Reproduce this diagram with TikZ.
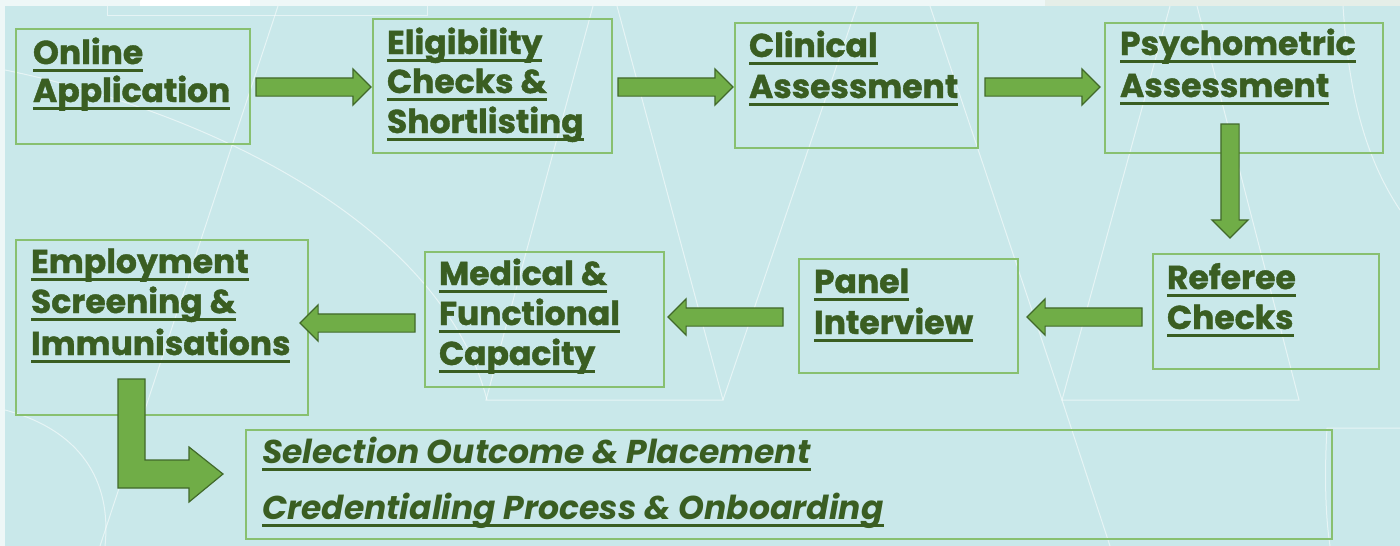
\documentclass[tikz,border=0pt]{standalone}
\usepackage{fontspec}
\setmainfont{Poppins}[BoldFeatures={FakeBold=1.2}]
\usetikzlibrary{shapes.arrows}
\definecolor{bg}{HTML}{C9E8EA}
\definecolor{bgtop}{HTML}{EEF7F7}
\definecolor{bgtopr}{HTML}{E5EEE8}
\definecolor{boxc}{HTML}{88C070}
\definecolor{arrf}{HTML}{70AD47}
\definecolor{arrd}{HTML}{41692A}
\definecolor{txtc}{HTML}{3A5E22}
\newcommand\ulin[1]{\setbox0=\hbox{#1}\rlap{\rule[-7.5pt]{\wd0}{3pt}}\box0}
\begin{document}
\begin{tikzpicture}[x=1pt,y=-1pt,
  stage/.style={draw=boxc, line width=1.5pt, anchor=north west, inner sep=0pt, outer sep=0pt},
  lbl/.style={anchor=base west, inner sep=0pt, outer sep=0pt, text=txtc, font=\fontsize{33}{40}\selectfont\bfseries},
  ilbl/.style={lbl, font=\fontsize{33}{40}\selectfont\bfseries\itshape},
  blk/.style={single arrow, draw=arrd, fill=arrf, line width=1.2pt,
    single arrow head extend=9pt, single arrow tip angle=90, inner sep=8.5pt,
    outer sep=0pt, minimum height=115pt, anchor=tail},
  deco/.style={white, opacity=0.55, line width=1pt}]
\useasboundingbox (0,0) rectangle (1400,546);
% background
\fill[bg] (0,0) rectangle (1400,546);
\fill[bgtop] (0,0) rectangle (1045,6);
\fill[bgtopr] (1045,0) rectangle (1400,6);
\fill[white] (140,0) rectangle (250,6);
\fill[bgtop] (0,0) rectangle (5,546);
% decorative lines
\draw[deco] (107,6) -- (107,15) -- (427,15) -- (427,6);
\draw[deco] (278,6) -- (100,546);
\draw[deco] (593,6) -- (486,400) -- (723,400) -- (617,6);
\draw[deco] (857,6) -- (723,400);
\draw[deco] (930,6) -- (1062,400) -- (1110,546);
\draw[deco] (1170,6) -- (1062,400) -- (1299,400) -- (1197,6);
\draw[deco] (1343,6) .. controls (1348,80) and (1360,150) .. (1400,210);
\draw[deco] (1400,428) -- (1327,428) .. controls (1324,480) and (1326,520) .. (1330,546);
\draw[deco] (5,70) .. controls (200,110) and (440,220) .. (487,400);
\draw[deco] (5,410) .. controls (80,430) and (112,480) .. (105,546);
% boxes
\node[stage, minimum width=234pt, minimum height=115pt] (b1) at (16,29) {};
\node[stage, minimum width=239pt, minimum height=134pt] (b2) at (373,19) {};
\node[stage, minimum width=243pt, minimum height=125pt] (b3) at (735,23) {};
\node[stage, minimum width=278pt, minimum height=130pt] (b4) at (1105,23) {};
\node[stage, minimum width=226pt, minimum height=115pt] (b5) at (1153,254) {};
\node[stage, minimum width=219pt, minimum height=114pt] (b6) at (799,259) {};
\node[stage, minimum width=239pt, minimum height=135pt] (b7) at (425,252) {};
\node[stage, minimum width=292pt, minimum height=175pt] (b8) at (16,240) {};
\node[stage, minimum width=1086pt, minimum height=109pt] (b9) at (246,430) {};
% arrows
\node[blk] (a1) at (256,87) {};
\node[blk] (a2) at (618,87) {};
\node[blk] (a3) at (985,87) {};
\node[blk, minimum height=114pt, shape border rotate=270] (a4) at (1230,124) {};
\node[blk, shape border rotate=180] (a5) at (1142,317) {};
\node[blk, shape border rotate=180] (a6) at (783,317) {};
\node[blk, shape border rotate=180] (a7) at (415,323) {};
\coordinate (a8s) at (118,379);
\draw[draw=arrd, fill=arrf, line width=1.2pt, line join=miter]
  (a8s) -- (145,379) -- (145,460) -- (189,460) -- (189,447) -- (223,474)
  -- (189,502) -- (189,488) -- (118,488) -- cycle;
% labels
\node[lbl] (t1a) at (33,64) {\ulin{Online}};
\node[lbl] (t1b) at (33,102) {\ulin{Application}};
\node[lbl] (t2a) at (387,54) {\ulin{Eligibility}};
\node[lbl] (t2b) at (387,93) {\ulin{Checks \&}};
\node[lbl] (t2c) at (387,133) {\ulin{Shortlisting}};
\node[lbl] (t3a) at (749,57) {\ulin{Clinical}};
\node[lbl] (t3b) at (749,98) {\ulin{Assessment}};
\node[lbl] (t4a) at (1120,55) {\ulin{Psychometric}};
\node[lbl] (t4b) at (1120,97) {\ulin{Assessment}};
\node[lbl] (t5a) at (1167,289) {\ulin{Referee}};
\node[lbl] (t5b) at (1167,329) {\ulin{Checks}};
\node[lbl] (t6a) at (814,293) {\ulin{Panel}};
\node[lbl] (t6b) at (814,334) {\ulin{Interview}};
\node[lbl] (t7a) at (439,285) {\ulin{Medical \&}};
\node[lbl] (t7b) at (439,325) {\ulin{Functional}};
\node[lbl] (t7c) at (439,365) {\ulin{Capacity}};
\node[lbl] (t8a) at (31,273) {\ulin{Employment}};
\node[lbl] (t8b) at (31,313) {\ulin{Screening \&}};
\node[lbl] (t8c) at (31,355) {\ulin{Immunisations}};
\node[ilbl] (t9a) at (262,463) {\ulin{Selection Outcome \& Placement}};
\node[ilbl] (t9b) at (262,519) {\ulin{Credentialing Process \& Onboarding}};
\end{tikzpicture}
\end{document}
